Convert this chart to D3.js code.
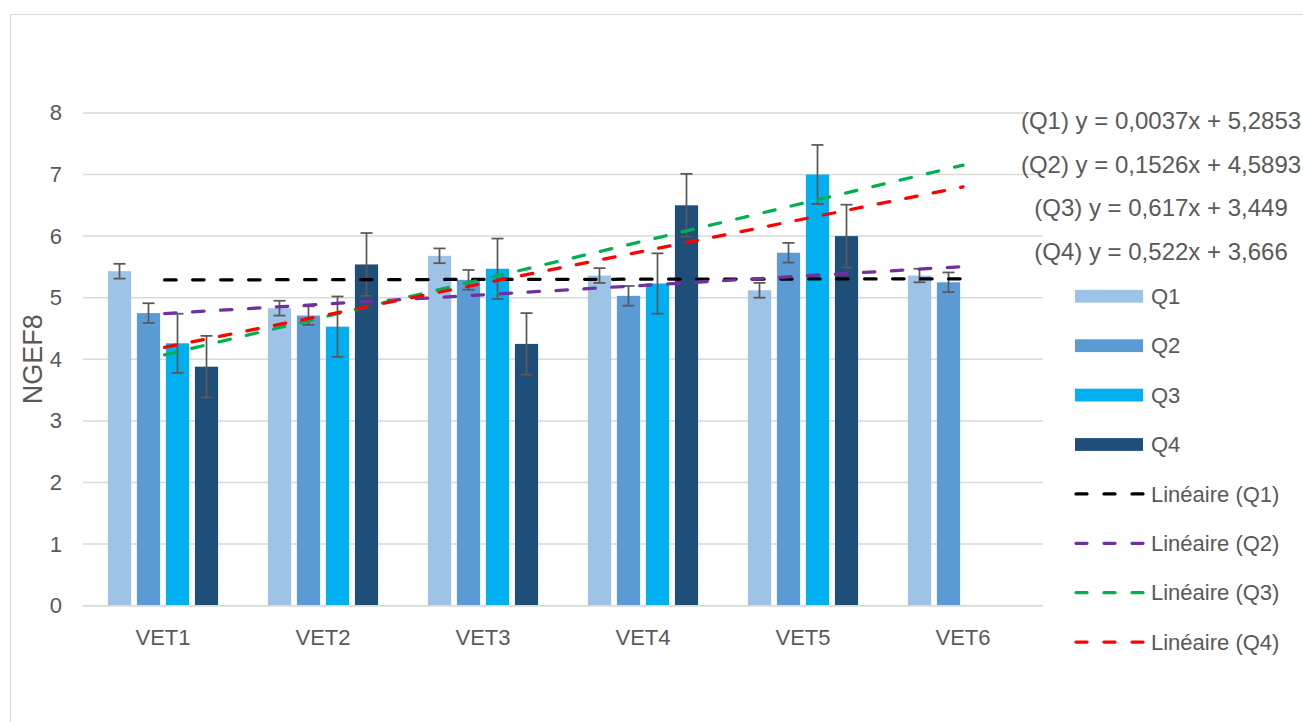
<!DOCTYPE html>
<html>
<head>
<meta charset="utf-8">
<script src="https://cdn.jsdelivr.net/npm/d3@7"></script>
<style>
  html, body { margin: 0; padding: 0; background: #ffffff; }
  svg { display: block; }
  text { font-family: "Liberation Sans", Arial, Helvetica, sans-serif; fill: #595959; }
</style>
</head>
<body>
<svg id="chart" width="1303" height="722"></svg>
<script>
// Categories and series
const categories = ["VET1", "VET2", "VET3", "VET4", "VET5", "VET6"];
const seriesNames = ["Q1", "Q2", "Q3", "Q4"];

// Mean NGEF8 per category (null = no value)
const q1Values = [5.43, 4.83, 5.68, 5.36, 5.12, 5.36];
const q2Values = [4.75, 4.71, 5.29, 5.03, 5.73, 5.25];
const q3Values = [4.26, 4.53, 5.47, 5.23, 7.00, null];
const q4Values = [3.88, 5.54, 4.25, 6.50, 6.00, null];

// Error bar half-widths
const q1Errors = [0.12, 0.12, 0.12, 0.12, 0.12, 0.11];
const q2Errors = [0.16, 0.15, 0.16, 0.16, 0.16, 0.16];
const q3Errors = [0.48, 0.49, 0.49, 0.49, 0.48, null];
const q4Errors = [0.50, 0.51, 0.50, 0.51, 0.51, null];

// Linear trendlines y = a x + b
const trendSlopes = [0.0037, 0.1526, 0.617, 0.522];
const trendIntercepts = [5.2853, 4.5893, 3.449, 3.666];
const trendRange = [1, 6];

// Axis ticks
const yTicks = [0, 1, 2, 3, 4, 5, 6, 7, 8];

const barColors = ["#9DC3E6", "#5B9BD5", "#00B0F0", "#1F4E79"];
const trendColors = ["#000000", "#7030A0", "#00B050", "#FF0000"];

const seriesValues = [q1Values, q2Values, q3Values, q4Values];
const seriesErrors = [q1Errors, q2Errors, q3Errors, q4Errors];

const svg = d3.select("#chart");

// Outer chart frame
svg.append("rect")
  .attr("x", 10.5).attr("y", 14.5)
  .attr("width", 1400).attr("height", 800)
  .attr("fill", "#ffffff")
  .attr("stroke", "#d9d9d9").attr("stroke-width", 1);

const plot = { left: 83, right: 1043, top: 112.9, bottom: 605.7 };

const x0 = d3.scaleBand().domain(categories).range([plot.left, plot.right]).padding(0);
const groupWidth = 116;
const x1 = d3.scaleBand().domain(seriesNames)
  .range([(x0.bandwidth() - groupWidth) / 2, (x0.bandwidth() + groupWidth) / 2])
  .paddingInner(0.2).paddingOuter(0.1);
const y = d3.scaleLinear().domain([0, 8]).range([plot.bottom, plot.top]);

// Gridlines
svg.append("g").selectAll("line")
  .data(yTicks)
  .join("line")
  .attr("x1", plot.left).attr("x2", plot.right)
  .attr("y1", d => y(d)).attr("y2", d => y(d))
  .attr("stroke", "#d9d9d9").attr("stroke-width", 1.5);

// Y axis labels
const yAxis = d3.axisLeft(y).tickValues(yTicks).tickSize(0).tickPadding(0).tickFormat(d3.format("d"));
const yAxisG = svg.append("g").attr("transform", `translate(62,0)`).call(yAxis);
yAxisG.select(".domain").remove();
yAxisG.selectAll("text")
  .attr("font-size", 22).attr("fill", "#595959")
  .style("font-family", '"Liberation Sans", Arial, sans-serif');

// X axis labels
const xAxis = d3.axisBottom(x0).tickSize(0).tickPadding(0);
const xAxisG = svg.append("g").attr("transform", `translate(0,${plot.bottom})`).call(xAxis);
xAxisG.select(".domain").remove();
xAxisG.selectAll("text")
  .attr("y", 32).attr("dy", "0.35em")
  .attr("font-size", 22).attr("fill", "#595959")
  .style("font-family", '"Liberation Sans", Arial, sans-serif');

// Y axis title
svg.append("text")
  .attr("transform", `translate(33,${(plot.top + plot.bottom) / 2}) rotate(-90)`)
  .attr("text-anchor", "middle").attr("dy", "0.35em")
  .attr("font-size", 27)
  .text("NGEF8");

// Bars
const barData = [];
seriesNames.forEach((s, si) => {
  categories.forEach((c, ci) => {
    const v = seriesValues[si][ci];
    if (v != null) barData.push({ s, si, c, v, e: seriesErrors[si][ci] });
  });
});

svg.append("g").selectAll("rect")
  .data(barData)
  .join("rect")
  .attr("x", d => x0(d.c) + x1(d.s))
  .attr("y", d => y(d.v))
  .attr("width", x1.bandwidth())
  .attr("height", d => y(0) - y(d.v))
  .attr("fill", d => barColors[d.si]);

// Baseline
svg.append("line")
  .attr("x1", plot.left).attr("x2", plot.right)
  .attr("y1", y(0)).attr("y2", y(0))
  .attr("stroke", "#d9d9d9").attr("stroke-width", 1.5);

// Error bars
const errG = svg.append("g").attr("stroke", "#595959").attr("stroke-width", 1.75).attr("fill", "none");
const capHalf = 6;
barData.forEach(d => {
  const cx = x0(d.c) + x1(d.s) + x1.bandwidth() / 2;
  const yHi = y(d.v + d.e), yLo = y(d.v - d.e);
  errG.append("line").attr("x1", cx).attr("x2", cx).attr("y1", yHi).attr("y2", yLo);
  errG.append("line").attr("x1", cx - capHalf).attr("x2", cx + capHalf).attr("y1", yHi).attr("y2", yHi);
  errG.append("line").attr("x1", cx - capHalf).attr("x2", cx + capHalf).attr("y1", yLo).attr("y2", yLo);
});

// Trendlines
const xTrend = d3.scaleLinear().domain(trendRange)
  .range([x0(categories[0]) + x0.bandwidth() / 2, x0(categories[categories.length - 1]) + x0.bandwidth() / 2]);
const dash = "11.5,16.5";
seriesNames.forEach((s, si) => {
  const pts = trendRange.map(t => [xTrend(t), y(trendSlopes[si] * t + trendIntercepts[si])]);
  svg.append("path")
    .attr("d", d3.line()(pts))
    .attr("fill", "none")
    .attr("stroke", trendColors[si])
    .attr("stroke-width", 3.25)
    .attr("stroke-linecap", "round")
    .attr("stroke-dasharray", dash)
    .attr("stroke-dashoffset", -1.6);
});

// Trendline equations
const fmt = v => String(v).replace(".", ",");
const eqY0 = 120.7, eqStep = 43.6;
svg.append("g").selectAll("text")
  .data(seriesNames)
  .join("text")
  .attr("x", 1161)
  .attr("y", (d, i) => eqY0 + i * eqStep)
  .attr("dy", "0.35em")
  .attr("text-anchor", "middle")
  .attr("font-size", 24)
  .text((d, i) => `(${d}) y = ${fmt(trendSlopes[i])}x + ${fmt(trendIntercepts[i])}`);

// Legend
const legY0 = 296.3, legStep = 49.4;
const legX = 1075, swatchW = 68;
const legend = svg.append("g");
seriesNames.forEach((s, i) => {
  const ly = legY0 + i * legStep;
  legend.append("rect")
    .attr("x", legX).attr("y", ly - 6.4)
    .attr("width", swatchW).attr("height", 12.8)
    .attr("fill", barColors[i]);
  legend.append("text")
    .attr("x", 1151).attr("y", ly).attr("dy", "0.35em")
    .attr("font-size", 22).text(s);
});
seriesNames.forEach((s, i) => {
  const ly = legY0 + (i + 4) * legStep;
  legend.append("line")
    .attr("x1", legX + 1).attr("x2", legX + swatchW)
    .attr("y1", ly).attr("y2", ly)
    .attr("stroke", trendColors[i])
    .attr("stroke-width", 3.25)
    .attr("stroke-linecap", "round")
    .attr("stroke-dasharray", "11,17");
  legend.append("text")
    .attr("x", 1151).attr("y", ly).attr("dy", "0.35em")
    .attr("font-size", 22).text(`Linéaire (${s})`);
});
</script>
</body>
</html>
